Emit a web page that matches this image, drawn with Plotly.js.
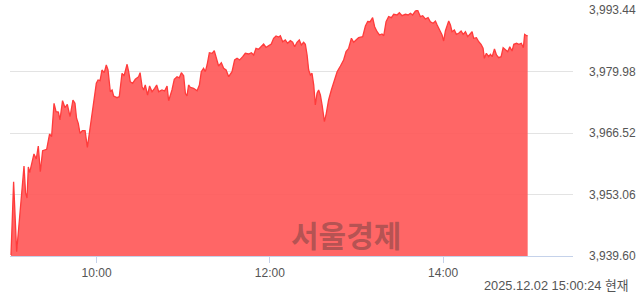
<!DOCTYPE html>
<html>
<head>
<meta charset="utf-8">
<script src="https://cdn.plot.ly/plotly-3.0.1.min.js"></script>
<style>
  html, body { margin: 0; padding: 0; background: #fff; }
  #chart { width: 640px; height: 294px; }
</style>
</head>
<body>
<div id="chart"></div>
<script>
// minutes after 09:00
const minutes = [0.7,2.5,4.6,6.9,7.6,9.7,10.8,11.8,12.7,13.6,15.0,16.6,18.2,19.6,21.0,22.6,25.4,27.4,28.8,30.5,31.9,33.5,34.6,36.4,38.1,39.7,41.6,43.6,45.0,46.1,47.3,48.5,50.1,52.0,53.6,55.4,57.0,58.4,59.8,61.0,62.4,63.7,65.3,66.7,67.9,69.5,70.7,71.8,74.1,75.7,77.6,79.0,81.1,82.2,83.3,84.9,86.8,89.1,90.1,91.5,92.6,93.7,95.3,96.7,98.4,100.2,101.6,103.0,105.3,107.1,108.8,109.9,112.2,113.8,115.7,117.3,118.7,120.3,121.5,122.6,123.7,124.9,127.2,129.6,131.2,132.5,134.1,135.3,136.5,138.1,140.0,141.5,142.7,144.5,146.4,148.0,149.7,151.5,153.8,155.6,157.3,159.1,161.2,163.0,165.3,167.2,168.8,170.4,172.2,174.1,175.7,177.4,179.2,181.0,182.6,184.3,186.1,187.3,188.9,190.7,192.3,194.2,195.8,197.2,198.8,200.4,201.8,203.4,204.6,205.8,206.9,208.1,209.2,210.4,211.5,212.7,213.8,215.0,216.2,217.8,219.1,220.7,222.6,224.2,226.6,228.9,231.1,232.8,234.6,236.5,238.1,239.7,241.5,244.3,246.2,247.8,249.5,251.2,252.6,254.3,255.9,257.7,258.9,260.5,262.3,264.2,265.8,268.1,269.7,271.6,273.9,275.8,277.4,278.9,280.8,282.4,284.3,285.9,287.7,289.6,291.2,293.1,294.7,295.9,297.4,299.3,300.4,301.6,302.8,303.9,305.1,306.2,307.8,309.2,310.8,312.5,313.9,315.5,317.1,318.4,320.1,321.2,323.1,324.7,326.3,327.7,328.6,330.0,331.6,332.8,334.0,335.6,337.0,338.5,340.2,341.6,343.2,344.8,346.2,347.8,349.0,350.9,352.5,354.2,355.6,356.5,357.9,358.6];
const values = [3939.82,3955.86,3940.54,3950.39,3951.49,3959.30,3953.39,3952.30,3959.08,3957.83,3959.96,3961.93,3960.83,3963.68,3958.05,3962.65,3962.95,3966.30,3965.71,3973.02,3971.18,3971.12,3969.37,3973.59,3972.06,3972.80,3970.09,3973.74,3973.02,3969.74,3968.64,3966.46,3967.03,3967.03,3963.39,3967.18,3970.46,3974.47,3977.40,3978.12,3977.97,3980.31,3979.72,3981.40,3980.31,3975.56,3975.93,3974.62,3974.25,3974.47,3979.59,3979.00,3981.56,3979.94,3977.75,3977.40,3978.27,3978.84,3979.72,3976.66,3975.93,3977.03,3974.84,3976.81,3975.56,3976.30,3977.03,3975.56,3975.93,3975.71,3976.81,3973.59,3975.93,3978.27,3978.84,3978.60,3979.72,3979.06,3975.21,3974.62,3977.03,3976.52,3976.30,3975.78,3977.03,3979.94,3980.68,3979.94,3981.40,3984.10,3983.96,3984.53,3983.22,3981.19,3981.91,3980.68,3980.31,3978.84,3979.94,3982.50,3982.87,3982.50,3983.22,3983.96,3983.81,3984.10,3983.59,3985.06,3984.84,3985.41,3986.00,3985.28,3985.56,3986.00,3987.25,3987.75,3987.53,3987.82,3986.50,3986.88,3986.15,3986.72,3986.37,3985.41,3986.37,3986.88,3985.78,3986.37,3985.93,3983.59,3980.31,3979.22,3979.59,3977.03,3972.65,3975.21,3975.93,3974.84,3972.65,3968.99,3970.83,3973.74,3975.93,3977.40,3979.94,3981.19,3982.50,3984.32,3985.06,3987.25,3986.37,3986.88,3987.38,3987.60,3989.94,3990.92,3990.88,3991.76,3989.79,3988.69,3987.97,3988.19,3987.82,3990.88,3991.98,3991.76,3992.50,3992.35,3992.85,3992.19,3992.50,3992.35,3992.72,3992.35,3993.22,3993.38,3991.98,3992.19,3991.47,3991.76,3990.88,3990.53,3991.03,3990.16,3989.06,3987.97,3986.66,3988.85,3990.01,3991.03,3990.16,3988.69,3989.06,3988.12,3988.34,3988.85,3988.12,3988.69,3987.60,3988.12,3988.69,3987.25,3987.38,3986.50,3985.93,3985.06,3982.87,3983.96,3983.22,3983.75,3983.22,3984.91,3983.59,3983.00,3983.22,3985.19,3984.69,3984.32,3985.41,3984.47,3985.93,3986.15,3985.93,3986.15,3985.19,3988.12,3987.82,3987.82];

const yTickVals = [3939.60, 3953.06, 3966.52, 3979.98, 3993.44];
const yTickText = ['3,939.60', '3,953.06', '3,966.52', '3,979.98', '3,993.44'];
const xTickVals = [60, 180, 300];
const xTickText = ['10:00', '12:00', '14:00'];
const stampText = '2025.12.02 15:00:24 현재';
const watermarkText = '서울경제';

const baseFont = 'Liberation Sans, Noto Sans CJK KR, sans-serif';

const trace = {
  x: minutes,
  y: values,
  type: 'scatter',
  mode: 'lines',
  fill: 'tozeroy',
  fillcolor: 'rgba(255,90,90,0.93)',
  line: { color: '#ff3b3b', width: 1.3 },
  hoverinfo: 'skip'
};

const layout = {
  width: 640,
  height: 294,
  margin: { l: 10, r: 67, t: 10, b: 38 },
  paper_bgcolor: '#ffffff',
  plot_bgcolor: '#ffffff',
  showlegend: false,
  xaxis: {
    range: [0, 390],
    tickvals: xTickVals,
    ticktext: xTickText,
    showgrid: false,
    zeroline: false,
    showline: true,
    linecolor: '#c5d2ea',
    linewidth: 1,
    ticks: 'outside',
    ticklen: 6,
    tickcolor: '#c5d2ea',
    tickfont: { family: baseFont, size: 12, color: '#555' },
    fixedrange: true
  },
  yaxis: {
    range: [3939.60, 3993.44],
    side: 'right',
    tickvals: yTickVals,
    ticktext: yTickText,
    showgrid: true,
    gridcolor: '#e3e3e3',
    gridwidth: 1,
    zeroline: false,
    showline: false,
    ticks: '',
    ticklabelstandoff: 15,
    tickfont: { family: baseFont, size: 12, color: '#555' },
    fixedrange: true
  },
  annotations: [
    {
      text: watermarkText,
      xref: 'paper', yref: 'paper',
      x: (345.5 - 10) / 563, y: (256 - 234) / 246,
      xanchor: 'center', yanchor: 'middle',
      showarrow: false,
      font: { family: 'Noto Sans CJK KR, sans-serif', size: 30, color: 'rgba(90,60,60,0.45)', weight: 'bold' }
    },
    {
      text: stampText,
      xref: 'paper', yref: 'paper',
      x: (631 - 10) / 563, y: (256 - 285) / 246,
      xanchor: 'right', yanchor: 'middle',
      showarrow: false,
      font: { family: baseFont, size: 12.8, color: '#555' }
    }
  ]
};

Plotly.newPlot('chart', [trace], layout, { staticPlot: true, displayModeBar: false });
</script>
</body>
</html>
